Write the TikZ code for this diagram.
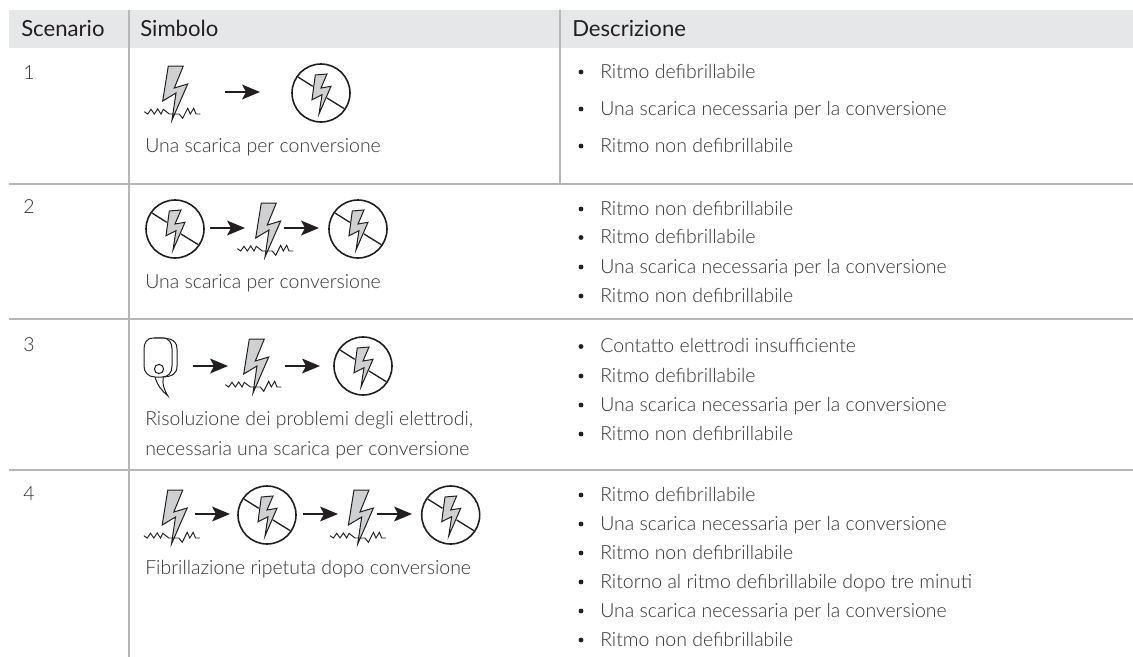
\documentclass[tikz,border=0pt]{standalone}
\usepackage{fontspec}
\setmainfont{Lato}[UprightFont=* Light]
\newfontfamily\headfont{Lato}
\definecolor{hdr}{HTML}{E6E7E8}
\definecolor{rule}{HTML}{B5B6B8}
\definecolor{txt}{HTML}{333333}
\definecolor{boltfill}{HTML}{CFD0D2}
\definecolor{ink}{HTML}{231F20}
\newcommand{\bodyrow}[2]{%
  \fill[ink] (581,#1-6) circle[radius=2.4];
  \node[lab] at (600,#1) {#2};}
\tikzset{
  lab/.style={anchor=base west,inner sep=0pt,text=txt,font=\fontsize{14.6pt}{17pt}\selectfont},
  head/.style={anchor=base west,inner sep=0pt,text=ink,font=\headfont\fontsize{16.6pt}{19pt}\selectfont},
  grid/.style={draw=rule,line width=1.3pt},
  sym/.style={draw=ink,line width=0.75pt,line join=miter},
  pics/boltsym/.style={code={
    \draw[sym,fill=boltfill] (-3.7,-54) -- (11.3,-54) -- (2.3,-32) -- (15.7,-36) -- (0,0) -- (4,-27) -- (-9.3,-19) -- cycle;
    \draw[ink,line width=.7pt] (-27.7,-8.3) -- (-24.3,-6) -- (-21,-10.7) -- (-17.7,-6) -- (-14.3,-11) -- (-11,-6) -- (-8.7,-10.7) -- (-2.7,-6) -- (7.3,-6) -- (10.7,-1.7) -- (15.7,-11.7) -- (18.3,-6) -- (21.7,-11.7) -- (24,-6) -- (28.3,-6);
  }},
  pics/nosym/.style={code={
    \draw[sym,line width=1.2pt] (0,0) circle[radius=29];
    \draw[sym,line width=1pt] (-23,-16) -- (-8.3,-6.7);
    \draw[sym,line width=1pt] (6,5) -- (23.3,15.7);
    \draw[sym,fill=boltfill] (-5.7,-18) -- (6,-19) -- (0,-5) -- (10,-6.7) -- (-2,21) -- (1,1.7) -- (-9,6.7) -- cycle;
  }},
  pics/arrsym/.style={code={
    \draw[ink,line width=1.5pt] (0,0) -- (24,0);
    \fill[ink] (35,0) -- (17,-7.5) -- (21,0) -- (17,7.5) -- cycle;
  }},
  pics/padsym/.style={code={
    \draw[sym] (-5,19.7) .. controls (-3,28) and (2,34) .. (7.7,38.7) .. controls (4,32) and (2,27) .. (3.3,20.5);
    \draw[sym] (-6,-19) .. controls (6,-19.5) and (17,-19) .. (17,-8) -- (17,9) .. controls (17,17) and (12,19.5) .. (3,20);
    \draw[sym,fill=white] (-7,-19) -- (3,-19) .. controls (9,-19) and (12,-14) .. (12,-8) -- (12,9) .. controls (12,16) and (8,20) .. (2,20) -- (-5,20) .. controls (-12,20) and (-16,15) .. (-16,9) -- (-16,-8) .. controls (-16,-14) and (-13,-19) .. (-7,-19) -- cycle;
    \draw[sym] (-1,12) circle[radius=4.6];
  }},
}
\begin{document}
\begin{tikzpicture}[x=0.75pt,y=-0.75pt]
\useasboundingbox (0,0) rectangle (1133,657);
\fill[white] (0,0) rectangle (1133,657);
\fill[hdr] (9,10) rectangle (1133,48);
\draw[grid] (129,10) -- (129,657);
\draw[grid] (560,10) -- (560,184);
\draw[grid] (9,184) -- (1133,184);
\draw[grid] (9,319) -- (1133,319);
\draw[grid] (9,470) -- (1133,470);
\node[head] (h1) at (21,36) {Scenario};
\node[head] (h2) at (140,36) {Simbolo};
\node[head] (h3) at (572,36) {Descrizione};
\node[lab] (n1) at (23,79) {1};
\node[lab] (n2) at (23,213) {2};
\node[lab] (n3) at (23,351.5) {3};
\node[lab] (n4) at (23,500) {4};
% row 1
\pic at (172,120) {boltsym};
\pic at (225,92) {arrsym};
\pic at (321,93) {nosym};
\node[lab] (t1) at (145,152) {Una scarica per conversione};
% row 2
\pic at (175,229) {nosym};
\pic at (210,228) {arrsym};
\pic at (265,257) {boltsym};
\pic at (284,228) {arrsym};
\pic at (358,229) {nosym};
\node[lab] (t2) at (145,288) {Una scarica per conversione};
% row 3
\pic at (160,357) {padsym};
\pic at (193,366) {arrsym};
\pic at (253,393) {boltsym};
\pic at (285,366) {arrsym};
\pic at (363,366) {nosym};
\node[lab] (t3a) at (145,425) {Risoluzione dei problemi degli elettrodi,};
\node[lab] (t3b) at (145,455) {necessaria una scarica per conversione};
% row 4
\pic at (171.5,544) {boltsym};
\pic at (195,514) {arrsym};
\pic at (267,515) {nosym};
\pic at (303,514) {arrsym};
\pic at (357.7,544) {boltsym};
\pic at (377,514) {arrsym};
\pic at (450.7,515) {nosym};
\node[lab] (t4) at (145,574) {Fibrillazione ripetuta dopo conversione};
% descriptions
\bodyrow{78}{Ritmo defibrillabile}
\bodyrow{115}{Una scarica necessaria per la conversione}
\bodyrow{152}{Ritmo non defibrillabile}
\bodyrow{215}{Ritmo non defibrillabile}
\bodyrow{243.5}{Ritmo defibrillabile}
\bodyrow{273}{Una scarica necessaria per la conversione}
\bodyrow{302}{Ritmo non defibrillabile}
\bodyrow{352.5}{Contatto elettrodi insufficiente}
\bodyrow{382}{Ritmo defibrillabile}
\bodyrow{411}{Una scarica necessaria per la conversione}
\bodyrow{440}{Ritmo non defibrillabile}
\bodyrow{501}{Ritmo defibrillabile}
\bodyrow{530}{Una scarica necessaria per la conversione}
\bodyrow{559}{Ritmo non defibrillabile}
\bodyrow{588}{Ritorno al ritmo defibrillabile dopo tre minuti}
\bodyrow{617}{Una scarica necessaria per la conversione}
\bodyrow{646}{Ritmo non defibrillabile}
\end{tikzpicture}
\end{document}
